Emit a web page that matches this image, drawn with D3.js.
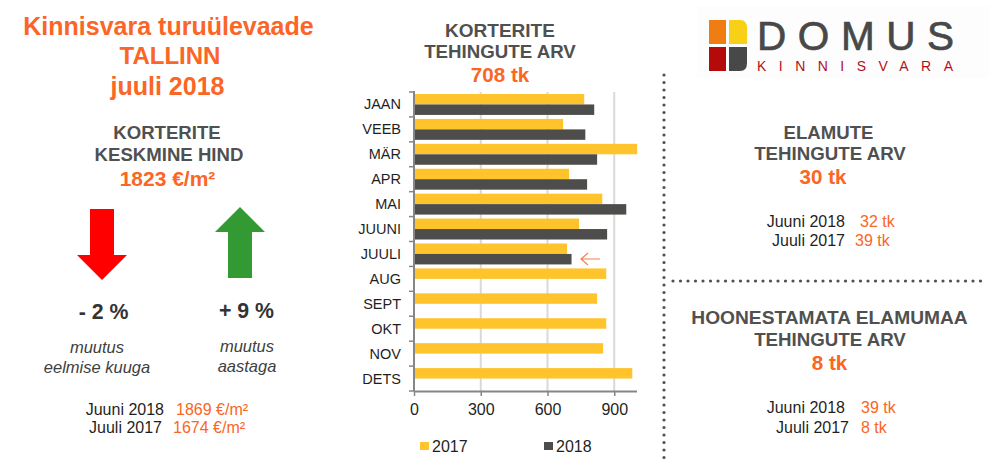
<!DOCTYPE html>
<html>
<head>
<meta charset="utf-8">
<script src="https://cdn.jsdelivr.net/npm/d3@7"></script>
<style>
  html, body { margin: 0; padding: 0; background: #fff; }
  svg { display: block; }
  text { font-family: "Liberation Sans", Arial, sans-serif; }
</style>
</head>
<body>
<script>
"use strict";

const width = 989;
const height = 464;

const months = ["JAAN", "VEEB", "MÄR", "APR", "MAI", "JUUNI", "JUULI", "AUG", "SEPT", "OKT", "NOV", "DETS"];
const sales2017 = [765, 670, 1003, 697, 846, 742, 688, 864, 823, 864, 850, 981];
const sales2018 = [810, 770, 823, 778, 954, 868, 708, null, null, null, null, null];
const seriesNames = ["2017", "2018"];
const xTicks = [0, 300, 600, 900];

const orange = "#fb6525";
const dark = "#1f1f1f";
const head = "#505050";
const colors = { "2017": "#ffc42b", "2018": "#4d4d4b" };

let svg = d3.select("body").append("svg").attr("width", width).attr("height", height);

function label(x, y, str, size, opts) {
  opts = opts || {};
  return svg.append("text")
    .attr("x", x)
    .attr("y", y)
    .attr("text-anchor", opts.anchor || "middle")
    .attr("font-size", size)
    .attr("font-weight", opts.bold ? "bold" : "normal")
    .attr("font-style", opts.italic ? "italic" : "normal")
    .attr("fill", opts.fill || dark)
    .text(str);
}

// left column
label(168.5, 35, "Kinnisvara turuülevaade", 25, { bold: true, fill: orange });
label(170, 64, "TALLINN", 24, { bold: true, fill: orange });
label(167.5, 95, "juuli 2018", 25, { bold: true, fill: orange });
label(167, 139, "KORTERITE", 18.6, { bold: true, fill: head });
label(169, 160.5, "KESKMINE HIND", 18.6, { bold: true, fill: head });
label(167.5, 186, "1823 €/m²", 21, { bold: true, fill: orange });

let arrows = svg.append("g");
arrows.append("path").attr("fill", "#ff0000")
  .attr("d", "M90,209H114V255H127L102,280L77,255H90Z");
arrows.append("path").attr("fill", "#339933")
  .attr("d", "M228,278H252V232H265L240,207L215,232H228Z");

label(103.5, 319, "- 2 %", 21.3, { bold: true, fill: "#333" });
label(246.5, 318, "+ 9 %", 21.3, { bold: true, fill: "#333" });
label(97, 353, "muutus", 16.5, { italic: true, fill: "#404040" });
label(97, 373, "eelmise kuuga", 16.5, { italic: true, fill: "#404040" });
label(247, 352, "muutus", 16.5, { italic: true, fill: "#404040" });
label(247, 372, "aastaga", 16.5, { italic: true, fill: "#404040" });

label(164, 415, "Juuni 2018", 16, { anchor: "end" });
label(176, 415, "1869 €/m²", 16, { anchor: "start", fill: orange });
label(162, 433, "Juuli 2017", 16, { anchor: "end" });
label(173, 433, "1674 €/m²", 16, { anchor: "start", fill: orange });

// bar chart
label(500, 37, "KORTERITE", 19, { bold: true, fill: head });
label(500, 58, "TEHINGUTE ARV", 18.7, { bold: true, fill: head });
label(500, 82, "708 tk", 20.6, { bold: true, fill: orange });

let x = d3.scaleLinear().domain([0, 1000]).range([414, 636.5]);
let y = d3.scaleBand().domain(months).range([92, 391]).paddingInner(0.16).paddingOuter(0.08);
let ySub = d3.scaleBand().domain(seriesNames).range([0, y.bandwidth()]);

let grid = svg.append("g");
grid.selectAll("line")
  .data(xTicks.slice(1))
  .enter()
  .append("line")
  .attr("x1", d => x(d))
  .attr("x2", d => x(d))
  .attr("y1", 92)
  .attr("y2", 391)
  .attr("stroke", "#d9d9d9")
  .attr("stroke-width", 2);

let series = [
  { name: "2017", values: sales2017 },
  { name: "2018", values: sales2018 }
];
series.forEach(function (s) {
  svg.append("g").selectAll("rect")
    .data(s.values.map((v, i) => ({ month: months[i], value: v })).filter(d => d.value !== null))
    .enter()
    .append("rect")
    .attr("x", x(0) + 1)
    .attr("y", d => y(d.month) + ySub(s.name))
    .attr("width", d => x(d.value) - x(0) - 1)
    .attr("height", ySub.bandwidth())
    .attr("fill", colors[s.name]);
});

let xAxis = svg.append("g")
  .attr("transform", "translate(0,391)")
  .call(d3.axisBottom(x).tickValues(xTicks).tickSize(5).tickPadding(8).tickSizeOuter(0));
xAxis.select(".domain").attr("stroke", "#868686").attr("stroke-width", 2);
xAxis.selectAll("line").attr("stroke", "#868686").attr("stroke-width", 1.5);
xAxis.selectAll("text").attr("font-size", 16).attr("fill", dark).attr("font-family", "Liberation Sans");

let yStep = y.step();
let yAxisG = svg.append("g").attr("transform", "translate(414,0)");
yAxisG.append("line").attr("y1", 91).attr("y2", 391).attr("stroke", "#868686").attr("stroke-width", 2);
yAxisG.selectAll(".tick")
  .data(months.concat(["end"]))
  .enter()
  .append("line")
  .attr("class", "tick")
  .attr("x1", -5)
  .attr("x2", 0)
  .attr("y1", (d, i) => 92 + i * yStep)
  .attr("y2", (d, i) => 92 + i * yStep)
  .attr("stroke", "#868686")
  .attr("stroke-width", 1.5);
yAxisG.selectAll("text")
  .data(months)
  .enter()
  .append("text")
  .attr("x", -13)
  .attr("y", d => y(d) + y.bandwidth() / 2 + 5)
  .attr("text-anchor", "end")
  .attr("font-size", 14.5)
  .attr("fill", dark)
  .text(d => d);

// arrow next to the current month
let cur = svg.append("g").attr("stroke", "#fb7f50").attr("fill", "none").attr("stroke-width", 1.2);
cur.append("path").attr("d", "M581,259H600M588,253L581,259L588,265");

// legend
let legendX = { "2017": 420, "2018": 544 };
seriesNames.forEach(function (name) {
  svg.append("rect").attr("x", legendX[name]).attr("y", 442).attr("width", 9).attr("height", 8).attr("fill", colors[name]);
  label(legendX[name] + 12, 452, name, 16, { anchor: "start" });
});

// dotted separators
let dots = svg.append("g").attr("stroke", "#505050").attr("stroke-width", 3.2)
  .attr("stroke-linecap", "round").attr("stroke-dasharray", "0 7.5").attr("fill", "none");
dots.append("line").attr("x1", 664).attr("x2", 664).attr("y1", 75).attr("y2", 462);
dots.append("line").attr("x1", 673).attr("x2", 982).attr("y1", 281).attr("y2", 281);

// logo
let logo = svg.append("g");
logo.append("rect").attr("x", 697).attr("y", 6).attr("width", 292).attr("height", 72).attr("fill", "#fdfdfd");
logo.append("rect").attr("x", 709).attr("y", 20).attr("width", 17).attr("height", 24).attr("fill", "#ef7d14");
logo.append("path").attr("d", "M729,20H740Q747,20 747,28V44H729Z").attr("fill", "#f8d018");
logo.append("rect").attr("x", 709).attr("y", 47).attr("width", 17).attr("height", 24).attr("fill", "#b50a0a");
logo.append("path").attr("d", "M729,47H747V63Q747,71 740,71H729Z").attr("fill", "#484848");
label(757, 49.5, "DOMUS", 40.5, { anchor: "start", fill: "#484848" })
  .attr("textLength", 197).attr("lengthAdjust", "spacing")
  .attr("stroke", "#484848").attr("stroke-width", 0.7);
label(757, 70.7, "KINNISVARA", 14, { anchor: "start", fill: "#b50f1a" })
  .attr("textLength", 196).attr("lengthAdjust", "spacing");

// right column
label(828.5, 139, "ELAMUTE", 18.6, { bold: true, fill: head });
label(830, 160, "TEHINGUTE ARV", 18.7, { bold: true, fill: head });
label(823, 184, "30 tk", 20.6, { bold: true, fill: orange });
label(845, 227, "Juuni 2018", 16, { anchor: "end" });
label(860, 227, "32 tk", 16, { anchor: "start", fill: orange });
label(845, 246, "Juuli 2017", 16, { anchor: "end" });
label(855, 246, "39 tk", 16, { anchor: "start", fill: orange });

label(829.5, 324, "HOONESTAMATA ELAMUMAA", 19.2, { bold: true, fill: head });
label(830, 346, "TEHINGUTE ARV", 18.7, { bold: true, fill: head });
label(829.5, 370, "8 tk", 20.6, { bold: true, fill: orange });
label(845, 413, "Juuni 2018", 16, { anchor: "end" });
label(861, 413, "39 tk", 16, { anchor: "start", fill: orange });
label(849, 433, "Juuli 2017", 16, { anchor: "end" });
label(861, 433, "8 tk", 16, { anchor: "start", fill: orange });
</script>
</body>
</html>
